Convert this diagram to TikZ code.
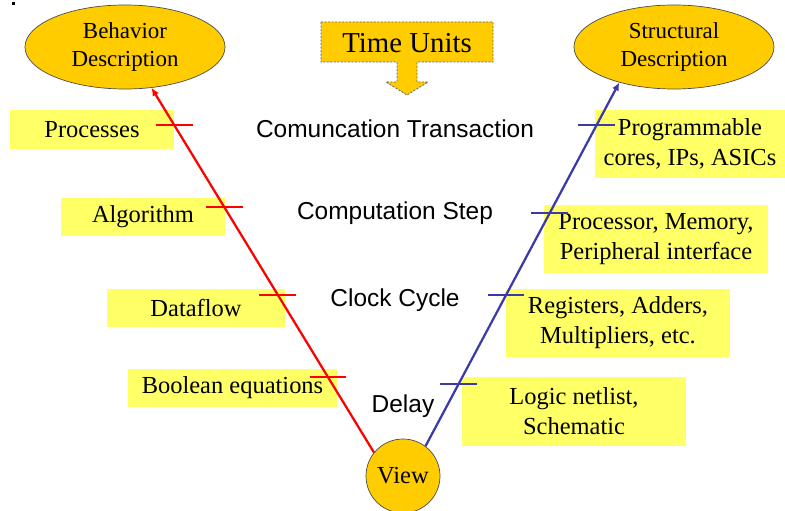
\documentclass[tikz,border=0pt]{standalone}
\usepackage{fontspec}
\setmainfont{Liberation Serif}
\setsansfont{Liberation Sans}
\usetikzlibrary{arrows.meta,calc,positioning,shapes.geometric}
\definecolor{gold}{HTML}{FFCC00}
\definecolor{lemon}{HTML}{FFFF66}
\definecolor{indigo}{RGB}{58,58,168}
\newcommand{\boxfont}{\fontsize{17.4}{21.3}\selectfont}
\newcommand{\ellfont}{\fontsize{16.3}{20.5}\selectfont}
\tikzset{
goldellipse/.style={
  ellipse,
  draw=black!70,
  fill=gold,
  line width=0.5pt,
  inner sep=0pt,
  minimum width=5cm,
  minimum height=2.1cm,
  align=center,
  font=\ellfont,
  }
}
\tikzset{
yellowbox/.style 2 args={
  fill=lemon,
  inner sep=0pt,
  minimum width=#1,
  minimum height=#2,
  align=center,
  font=\boxfont,
  }
}
\tikzset{
timelabel/.style={
  anchor=base,
  font=\sffamily\boxfont,
  }
}
\tikzset{
redline/.style={
  draw=red,
  line width=1.6pt,
  -{Latex[length=2mm,width=1.8mm]}
  },
blueline/.style={
  draw=indigo,
  line width=1.6pt,
  -{Latex[length=2mm,width=1.8mm]}
  },
redtick/.style={draw=red, line width=1.6pt},
bluetick/.style={draw=indigo, line width=1.6pt}
}

\begin{document}
\begin{tikzpicture}[x=0.025cm,y=-0.025cm]
    \useasboundingbox (0,0) rectangle (785,511);
    \fill (12,2) rectangle (15,5);

    % the two views and the root
    \node[goldellipse] (behav) at (125,47) {Behavior\\Description};
    \node[goldellipse] (struct) at (674,47) {Structural\\Description};
    \node[circle, draw=black!70, fill=gold, line width=0.5pt, minimum size=1.85cm, inner sep=0pt, font=\boxfont] (view) at (403,476) {View};

    % time units callout
    \path [draw=black!60, fill=gold, dashed, dash pattern=on 1.5pt off 1pt, line width=0.6pt]
      (321,22) -- (493,22) -- (493,62) -- (417,62) -- (417,82) -- (428,82) -- (407,95)
      -- (386,82) -- (397,82) -- (397,62) -- (321,62) -- cycle;
    \node[font=\fontsize{20.5}{24}\selectfont] (tunits) at (407,43) {Time Units};

    % levels
    \node[timelabel] (comm) at (395,138) {Comuncation Transaction};
    \node[timelabel] (comp) at (395,220) {Computation Step};
    \node[timelabel] (clock) at (395,307) {Clock Cycle};
    \node[timelabel] (delay) at (403,413) {Delay};

    % behaviour side
    \node[yellowbox={4.1cm}{0.975cm}] (proc) at (92,129.5) {Processes};
    \node[yellowbox={4.1cm}{0.95cm}] (algo) at (143,217) {Algorithm};
    \node[yellowbox={4.45cm}{0.95cm}] (dflow) at (196,308) {Dataflow};
    \node[yellowbox={5.225cm}{0.95cm}] (bool) at (232.5,388) {Boolean equations};

    % structure side
    \node[yellowbox={4.75cm}{1.7cm}] (prog) at (690,144) {Programmable\\cores, IPs, ASICs};
    \node[yellowbox={5.6cm}{1.7cm}] (pmem) at (656,239) {Processor, Memory,\\Peripheral interface};
    \node[yellowbox={5.6cm}{1.7cm}] (regs) at (618,323) {Registers, Adders,\\Multipliers, etc.};
    \node[yellowbox={5.6cm}{1.725cm}] (logic) at (574,411.5) {Logic netlist,\\Schematic};

    \draw[redline] (view.141) -- (behav.303);
    \draw[blueline] (view.53) -- (struct.213);

    \coordinate (rt1) at (intersection of view.141--behav.303 and 0,125--785,125);
    \coordinate (rt2) at (intersection of view.141--behav.303 and 0,207--785,207);
    \coordinate (rt3) at (intersection of view.141--behav.303 and 0,295--785,295);
    \coordinate (rt4) at (intersection of view.141--behav.303 and 0,377--785,377);
    \coordinate (bt1) at (intersection of view.53--struct.213 and 0,125--785,125);
    \coordinate (bt2) at (intersection of view.53--struct.213 and 0,213--785,213);
    \coordinate (bt3) at (intersection of view.53--struct.213 and 0,295--785,295);
    \coordinate (bt4) at (intersection of view.53--struct.213 and 0,384--785,384);

    \foreach \t in {rt1,rt2,rt3,rt4}
      \draw[redtick] ([xshift=-0.46cm]\t) -- ([xshift=0.46cm]\t);
    \foreach \t in {bt1,bt2,bt3,bt4}
      \draw[bluetick] ([xshift=-0.46cm]\t) -- ([xshift=0.46cm]\t);
\end{tikzpicture}
\end{document}
